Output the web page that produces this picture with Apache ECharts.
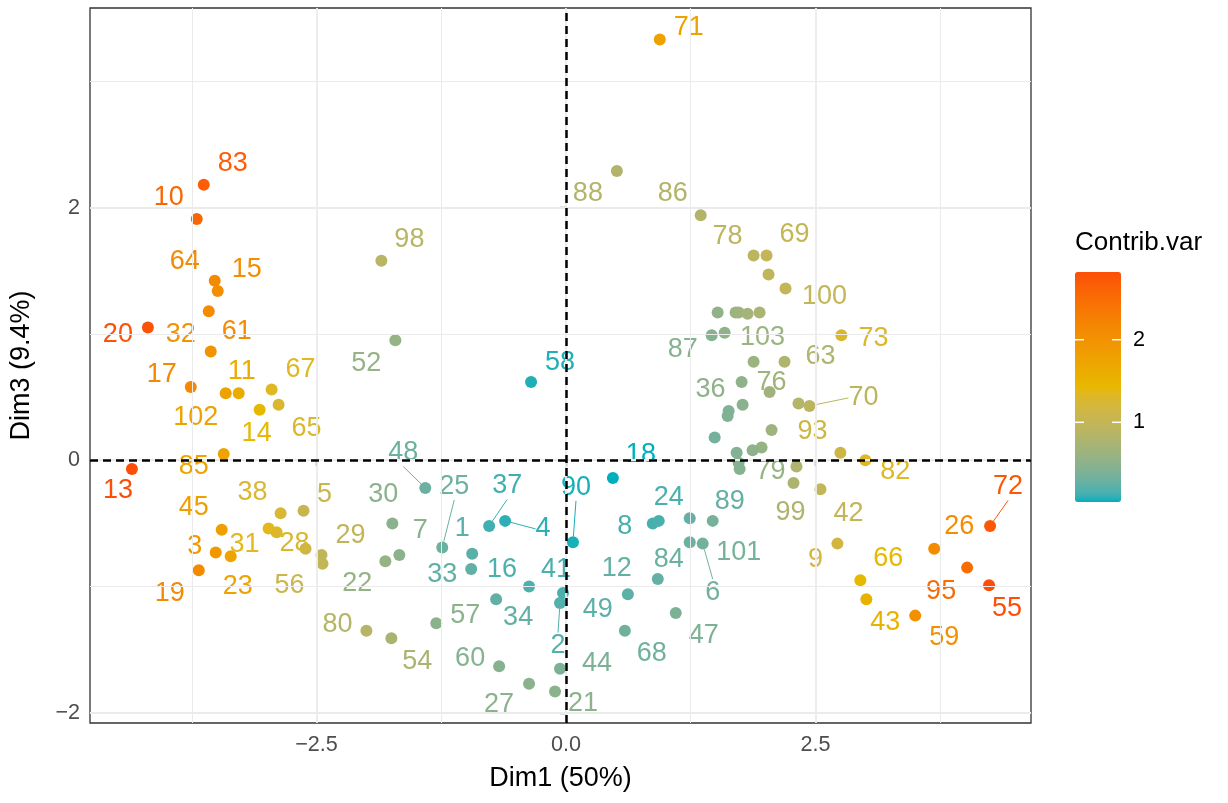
<!DOCTYPE html>
<html>
<head>
<meta charset="utf-8">
<style>
  html, body { margin: 0; padding: 0; background: #fff; }
  #chart { width: 1228px; height: 803px; }
</style>
<script src="https://cdn.jsdelivr.net/npm/echarts@6/dist/echarts.min.js"></script>
</head>
<body>
<div id="chart"></div>
<script>
// individuals (id, Dim1, Dim3, contribution)
var ids = [1, 2, 3, 4, 5, 6, 7, 8, 9, 10, 11, 12, 13, 14, 15, 16, 17, 18, 19, 20,
  21, 22, 23, 24, 25, 26, 27, 28, 29, 30, 31, 32, 33, 34, 35, 36, 37, 38, 39, 40,
  41, 42, 43, 44, 45, 46, 47, 48, 49, 50, 51, 52, 53, 54, 55, 56, 57, 58, 59, 60,
  61, 62, 63, 64, 65, 66, 67, 68, 69, 70, 71, 72, 73, 74, 75, 76, 77, 78, 79, 80,
  81, 82, 83, 84, 85, 86, 87, 88, 89, 90, 91, 92, 93, 94, 95, 96, 97, 98, 99, 100,
  101, 102, 103, 104, 105];
var dim1 = [-0.94, -0.06, -3.51, -0.61, -2.63, 1.37, -1.67, 0.87, 2.72, -3.70,
  -3.28, 0.92, -4.35, -3.07, -3.49, -0.37, -3.76, 0.47, -3.68, -4.19,
  -0.11, -1.81, -3.36, 0.93, -1.24, 3.69, -0.37, -2.90, -2.45, -1.74,
  -2.98, -3.56, -0.95, -0.70, -2.44, 1.76, -0.77, -2.86, 2.03, 1.52,
  -0.03, 2.55, 3.01, -0.06, -3.45, 1.70, 1.10, -1.41, 0.62, 1.73,
  1.82, -1.71, 1.94, -1.75, 4.24, -2.61, -1.30, -0.35, 3.50, -0.67,
  -3.58, 1.59, 2.19, -3.52, -2.88, 2.95, -2.95, 0.59, 2.01, 2.44,
  0.94, 4.25, 2.76, 1.77, 1.63, 2.04, 1.62, 1.88, 1.96, -2.00,
  2.33, 3.00, -3.63, 1.24, -3.43, 1.35, 1.46, 0.51, 1.24, 0.07,
  1.49, 1.71, 2.75, 1.87, 4.02, 1.73, 1.74, -1.85, 2.28, 2.20,
  1.47, -3.41, 1.88, 2.31, 2.06];
var dim3 = [-0.74, -1.13, -0.73, -0.48, -0.40, -0.66, -0.75, -0.50, -0.66, 1.91,
  0.53, -0.94, -0.07, 0.40, 1.34, -1.00, 0.58, -0.14, -0.87, 1.05,
  -1.83, -0.80, -0.76, -0.48, -0.69, -0.70, -1.77, -0.57, -0.75, -0.50,
  -0.54, 0.86, -0.86, -1.10, -0.82, 0.62, -0.52, -0.42, 1.47, 1.17,
  -1.05, -0.23, -1.10, -1.65, -0.55, 1.17, -1.21, -0.22, -1.06, 1.17,
  1.16, 0.95, 1.17, -1.41, -0.99, -0.70, -1.29, 0.62, -1.23, -1.63,
  1.18, 1.01, 0.78, 1.42, 0.44, -0.95, 0.56, -1.35, 1.62, 0.43,
  3.33, -0.52, 0.99, 0.44, 0.39, 0.54, 0.35, 1.62, 0.10, -1.35,
  0.45, 0.00, 2.18, -0.65, 0.05, 1.94, 0.99, 2.29, -0.46, -0.65,
  0.18, 0.06, 0.06, 0.08, -0.85, -0.02, -0.07, 1.58, -0.18, 1.36,
  -0.48, 0.53, 0.78, -0.05, 0.24];
var contrib = [0.21, 0.19, 1.91, 0.09, 1.05, 0.34, 0.50, 0.15, 1.17, 2.57,
  1.64, 0.26, 2.82, 1.43, 2.08, 0.17, 2.15, 0.035, 2.13, 2.77,
  0.50, 0.58, 1.76, 0.16, 0.30, 2.10, 0.49, 1.29, 0.97, 0.49,
  1.36, 1.99, 0.24, 0.25, 0.99, 0.52, 0.13, 1.24, 0.94, 0.54,
  0.16, 0.98, 1.53, 0.40, 1.81, 0.63, 0.40, 0.30, 0.22, 0.64,
  0.69, 0.57, 0.76, 0.75, 2.82, 1.08, 0.50, 0.075, 2.04, 0.46,
  2.11, 0.53, 0.80, 2.14, 1.26, 1.43, 1.34, 0.32, 0.99, 0.91,
  1.77, 2.72, 1.28, 0.49, 0.42, 0.66, 0.41, 0.91, 0.57, 0.86,
  0.84, 1.33, 2.66, 0.29, 1.75, 0.83, 0.46, 0.82, 0.26, 0.063,
  0.34, 0.43, 1.13, 0.52, 2.51, 0.44, 0.45, 0.88, 0.78, 0.99,
  0.36, 1.77, 0.62, 0.79, 0.64];

var xTicks = [-2.5, 0, 2.5];
var xMinor = [-3.75, -1.25, 1.25, 3.75];
var yTicks = [-2, 0, 2];
var yMinor = [-1, 1, 3];
var legendTicks = [1, 2];
var gradientCols = ['#00AFBB', '#E7B800', '#FC4E07'];

// repelled label placement (px from point centre); ids not listed carry no label
var labelOffsets = {
  1: [-10, -25], 2: [-2, 43], 3: [-21, -6], 4: [38, 8], 5: [21, -16], 6: [10, 49],
  7: [21, -24], 8: [-28, 3], 9: [-22, 16], 10: [-28, -21], 11: [3, -22], 12: [-41, -10],
  13: [-14, 21], 14: [-3, 24], 15: [29, -21], 16: [-27, -17], 17: [-29, -12], 18: [28, -23],
  19: [-29, 23], 20: [-30, 7], 21: [28, 12], 22: [-28, 22], 23: [7, 30], 24: [10, -23],
  25: [12, -61], 26: [25, -22], 27: [-30, 21], 28: [18, 11], 29: [29, -19], 30: [-9, -29],
  31: [-24, 16], 32: [-30, -17], 33: [-29, 6], 34: [22, 18], 36: [-31, 8], 37: [18, -40],
  38: [-28, -21], 41: [-7, -23], 42: [28, 24], 43: [19, 23], 44: [37, -5], 45: [-28, -22],
  47: [28, 22], 48: [-22, -35], 49: [-30, 15], 52: [-29, 23], 54: [26, 23], 55: [18, 23],
  56: [-16, 37], 57: [29, -8], 58: [29, -19], 59: [29, 22], 60: [-29, -8], 61: [28, 20],
  63: [36, -5], 64: [-30, -19], 65: [28, 24], 66: [28, -22], 67: [29, -20], 68: [27, 23],
  69: [28, -21], 70: [54, -8], 71: [29, -12], 72: [18, -39], 73: [32, 3], 76: [2, -9],
  78: [-26, -19], 79: [9, 24], 80: [-29, -6], 82: [30, 11], 83: [29, -21], 84: [-21, 17],
  85: [-30, 13], 86: [-28, -22], 87: [-29, 14], 88: [-29, 23], 89: [40, -17], 90: [3, -55],
  93: [-28, -21], 95: [-26, 24], 98: [28, -21], 99: [-3, 30], 100: [39, 8], 101: [26, 32],
  102: [-30, 24], 103: [9, -24]
};
var segments = [2, 4, 6, 25, 37, 48, 70, 72, 90];

var FONT = '"Liberation Sans", Arial, sans-serif';
var vMin = 0.035, vMax = 2.82;
var barLeft = 1075, barTop = 272, barW = 46, barH = 230;

// colour ramp interpolated in CIELAB (like scales::colour_ramp)
function hexToLab(hex) {
  var c = [1, 3, 5].map(function (k) {
    var v = parseInt(hex.substr(k, 2), 16) / 255;
    return v <= 0.04045 ? v / 12.92 : Math.pow((v + 0.055) / 1.055, 2.4);
  });
  var x = (0.4124 * c[0] + 0.3576 * c[1] + 0.1805 * c[2]) / 0.95047;
  var y = (0.2126 * c[0] + 0.7152 * c[1] + 0.0722 * c[2]);
  var z = (0.0193 * c[0] + 0.1192 * c[1] + 0.9505 * c[2]) / 1.08883;
  var f = function (t) { return t > 0.008856 ? Math.cbrt(t) : 7.787 * t + 16 / 116; };
  return [116 * f(y) - 16, 500 * (f(x) - f(y)), 200 * (f(y) - f(z))];
}
function labToHex(lab) {
  var fy = (lab[0] + 16) / 116, fx = fy + lab[1] / 500, fz = fy - lab[2] / 200;
  var g = function (t) { return t * t * t > 0.008856 ? t * t * t : (t - 16 / 116) / 7.787; };
  var x = g(fx) * 0.95047, y = g(fy), z = g(fz) * 1.08883;
  var rgb = [
    3.2406 * x - 1.5372 * y - 0.4986 * z,
    -0.9689 * x + 1.8758 * y + 0.0415 * z,
    0.0557 * x - 0.2040 * y + 1.0570 * z
  ];
  return '#' + rgb.map(function (v) {
    v = v <= 0.0031308 ? 12.92 * v : 1.055 * Math.pow(v, 1 / 2.4) - 0.055;
    v = Math.round(Math.max(0, Math.min(1, v)) * 255);
    return (v < 16 ? '0' : '') + v.toString(16);
  }).join('');
}
var labs = gradientCols.map(hexToLab);
var rampColors = [];
for (var k = 0; k <= 40; k++) {
  var t = k / 40 * (labs.length - 1);
  var j = Math.min(Math.floor(t), labs.length - 2), f = t - j;
  rampColors.push(labToHex([0, 1, 2].map(function (d) {
    return labs[j][d] + (labs[j + 1][d] - labs[j][d]) * f;
  })));
}

var points = ids.map(function (id, i) {
  return {
    name: String(id),
    value: [dim1[i], dim3[i], contrib[i]],
    label: { show: !!labelOffsets[id] },
    labelLine: { show: segments.indexOf(id) >= 0, lineStyle: { width: 1 } }
  };
});

function gridLines(vals, key, width) {
  return vals.map(function (v) {
    var d = { lineStyle: { color: '#EBEBEB', width: width, type: 'solid' } };
    d[key] = v;
    return d;
  });
}

var graphics = [{
  type: 'text', left: barLeft, top: 230,
  style: { text: 'Contrib.var', font: '26px ' + FONT, fill: '#000' }
}];
legendTicks.forEach(function (v) {
  var y = barTop + (vMax - v) / (vMax - vMin) * barH;
  graphics.push({
    type: 'line', shape: { x1: barLeft, y1: y, x2: barLeft + 9, y2: y },
    style: { stroke: '#fff', lineWidth: 1.5 }, z: 100
  });
  graphics.push({
    type: 'line', shape: { x1: barLeft + barW - 9, y1: y, x2: barLeft + barW, y2: y },
    style: { stroke: '#fff', lineWidth: 1.5 }, z: 100
  });
  graphics.push({
    type: 'text', x: barLeft + barW + 12, y: y,
    style: { text: String(v), font: '21.6px ' + FONT, fill: '#000', verticalAlign: 'middle' }
  });
});

function minus(v, d) {
  var s = v.toFixed(d);
  return v < 0 ? '\u2212' + s.slice(1) : s;
}

var option = {
  animation: false,
  backgroundColor: '#fff',
  grid: {
    left: 90, top: 8, right: 197, bottom: 80,
    show: true, borderColor: '#333333', borderWidth: 1.3, backgroundColor: '#fff'
  },
  xAxis: {
    type: 'value', min: -4.77, max: 4.66,
    name: 'Dim1 (50%)', nameLocation: 'middle', nameGap: 42,
    nameTextStyle: { fontSize: 27, color: '#000', fontFamily: FONT },
    axisLine: { show: false },
    splitLine: { show: false },
    axisTick: { show: true, customValues: xTicks, length: 6, lineStyle: { color: '#333', width: 1.3 } },
    axisLabel: {
      customValues: xTicks, margin: 11, fontSize: 21.6, color: '#4D4D4D', fontFamily: FONT,
      formatter: function (v) { return minus(v, 1); }
    }
  },
  yAxis: {
    type: 'value', min: -2.08, max: 3.58,
    name: 'Dim3 (9.4%)', nameLocation: 'middle', nameGap: 55, nameRotate: 90,
    nameTextStyle: { fontSize: 27, color: '#000', fontFamily: FONT },
    axisLine: { show: false },
    splitLine: { show: false },
    axisTick: { show: true, customValues: yTicks, length: 6, lineStyle: { color: '#333', width: 1.3 } },
    axisLabel: {
      customValues: yTicks, margin: 10, fontSize: 21.6, color: '#4D4D4D', fontFamily: FONT,
      formatter: function (v) { return minus(v, 0); }
    }
  },
  visualMap: {
    type: 'continuous', min: vMin, max: vMax, seriesIndex: 2, dimension: 2,
    inRange: { color: rampColors },
    left: barLeft, top: barTop, itemWidth: barW, itemHeight: barH, padding: 0,
    text: ['', ''], calculable: false, hoverLink: false
  },
  graphic: graphics,
  series: [{
    type: 'scatter', data: [], z: 1, silent: true,
    markLine: {
      silent: true, symbol: 'none', label: { show: false }, animation: false,
      data: gridLines(xMinor, 'xAxis', 1).concat(gridLines(yMinor, 'yAxis', 1),
        gridLines(xTicks, 'xAxis', 1.8), gridLines(yTicks, 'yAxis', 1.8))
    }
  }, {
    type: 'scatter', data: [], z: 1, silent: true,
    markLine: {
      silent: true, symbol: 'none', label: { show: false }, animation: false,
      lineStyle: { color: '#000', width: 2.5, type: [8, 5] },
      data: [{ xAxis: 0 }, { yAxis: 0 }]
    }
  }, {
    type: 'scatter', z: 3,
    symbolSize: 12,
    itemStyle: { opacity: 1 },
    data: points,
    label: {
      show: true, position: 'inside', formatter: '{b}',
      color: 'inherit', fontSize: 27, fontFamily: FONT
    },
    labelLayout: function (p) {
      var off = labelOffsets[ids[p.dataIndex]] || [0, 0];
      return { dx: off[0], dy: off[1], hideOverlap: false };
    }
  }]
};

var chart = echarts.init(document.getElementById('chart'));
chart.setOption(option);
</script>
</body>
</html>
